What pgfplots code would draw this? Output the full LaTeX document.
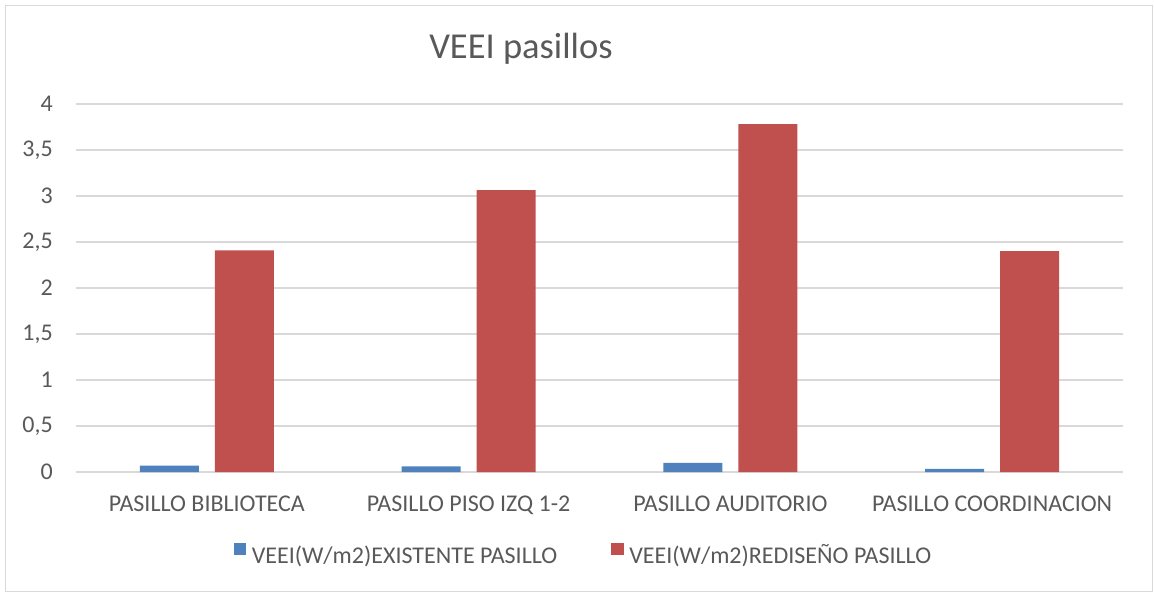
\documentclass[border=0pt]{standalone}
\usepackage{fontspec}
\setmainfont{Carlito}
\usepackage{pgfplots}
\pgfplotsset{compat=1.18}

\definecolor{serieA}{HTML}{4F81BD}
\definecolor{serieB}{HTML}{C0504D}
\definecolor{txt}{HTML}{595959}
\definecolor{gridc}{HTML}{D9D9D9}

\begin{document}
\begin{tikzpicture}
  \useasboundingbox (0,0) rectangle (1154pt,592pt);
  \draw[gridc, line width=1.2pt] (5.5pt,0.5pt) rectangle (1152.5pt,586.5pt);
  \begin{axis}[
    at={(76pt,120pt)}, anchor=south west,
    scale only axis, width=1047pt, height=368pt,
    ybar=16pt, bar width=59pt,
    xmin=-0.5, xmax=3.5,
    ymin=0, ymax=4, ytick={0,0.5,...,4},
    xtick=data,
    xticklabels={PASILLO BIBLIOTECA, PASILLO PISO IZQ 1-2, PASILLO AUDITORIO, PASILLO COORDINACION},
    axis x line*=bottom, axis y line*=left,
    x axis line style={gridc, line width=1.2pt, -},
    y axis line style={draw=none},
    major tick length=0pt,
    ymajorgrids, grid style={gridc, line width=1.2pt},
    /pgf/number format/use comma,
    /pgf/number format/assume math mode=true,
    ticklabel style={font=\fontsize{24}{28}\selectfont, text=txt},
    yticklabel style={anchor=east, inner sep=0pt, xshift=-23pt},
    xticklabel style={anchor=north, inner sep=0pt, yshift=-24pt},
    title={VEEI pasillos},
    title style={at={(rel axis cs:0.425,1.106)}, anchor=base, inner sep=0pt,
      font=\fontsize{36.5}{40}\selectfont, text=txt},
    legend style={at={(rel axis cs:0.4847,-0.2255)}, anchor=center, draw=none,
      font=\fontsize{24}{28}\selectfont, text=txt, legend columns=2,
      /tikz/every even column/.append style={column sep=52pt}},
    legend image code/.code={\fill[#1] (0pt,0pt) rectangle (12.5pt,12.5pt); \path (16pt,0pt);},
  ]
    \addplot[fill=serieA, draw=none] coordinates {(0,0.07) (1,0.06) (2,0.10) (3,0.035)};
    \addlegendentry{VEEI(W/m2)EXISTENTE PASILLO}
    \addplot[fill=serieB, draw=none] coordinates {(0,2.41) (1,3.065) (2,3.78) (3,2.40)};
    \addlegendentry{VEEI(W/m2)REDISEÑO PASILLO}
  \end{axis}
\end{tikzpicture}
\end{document}
